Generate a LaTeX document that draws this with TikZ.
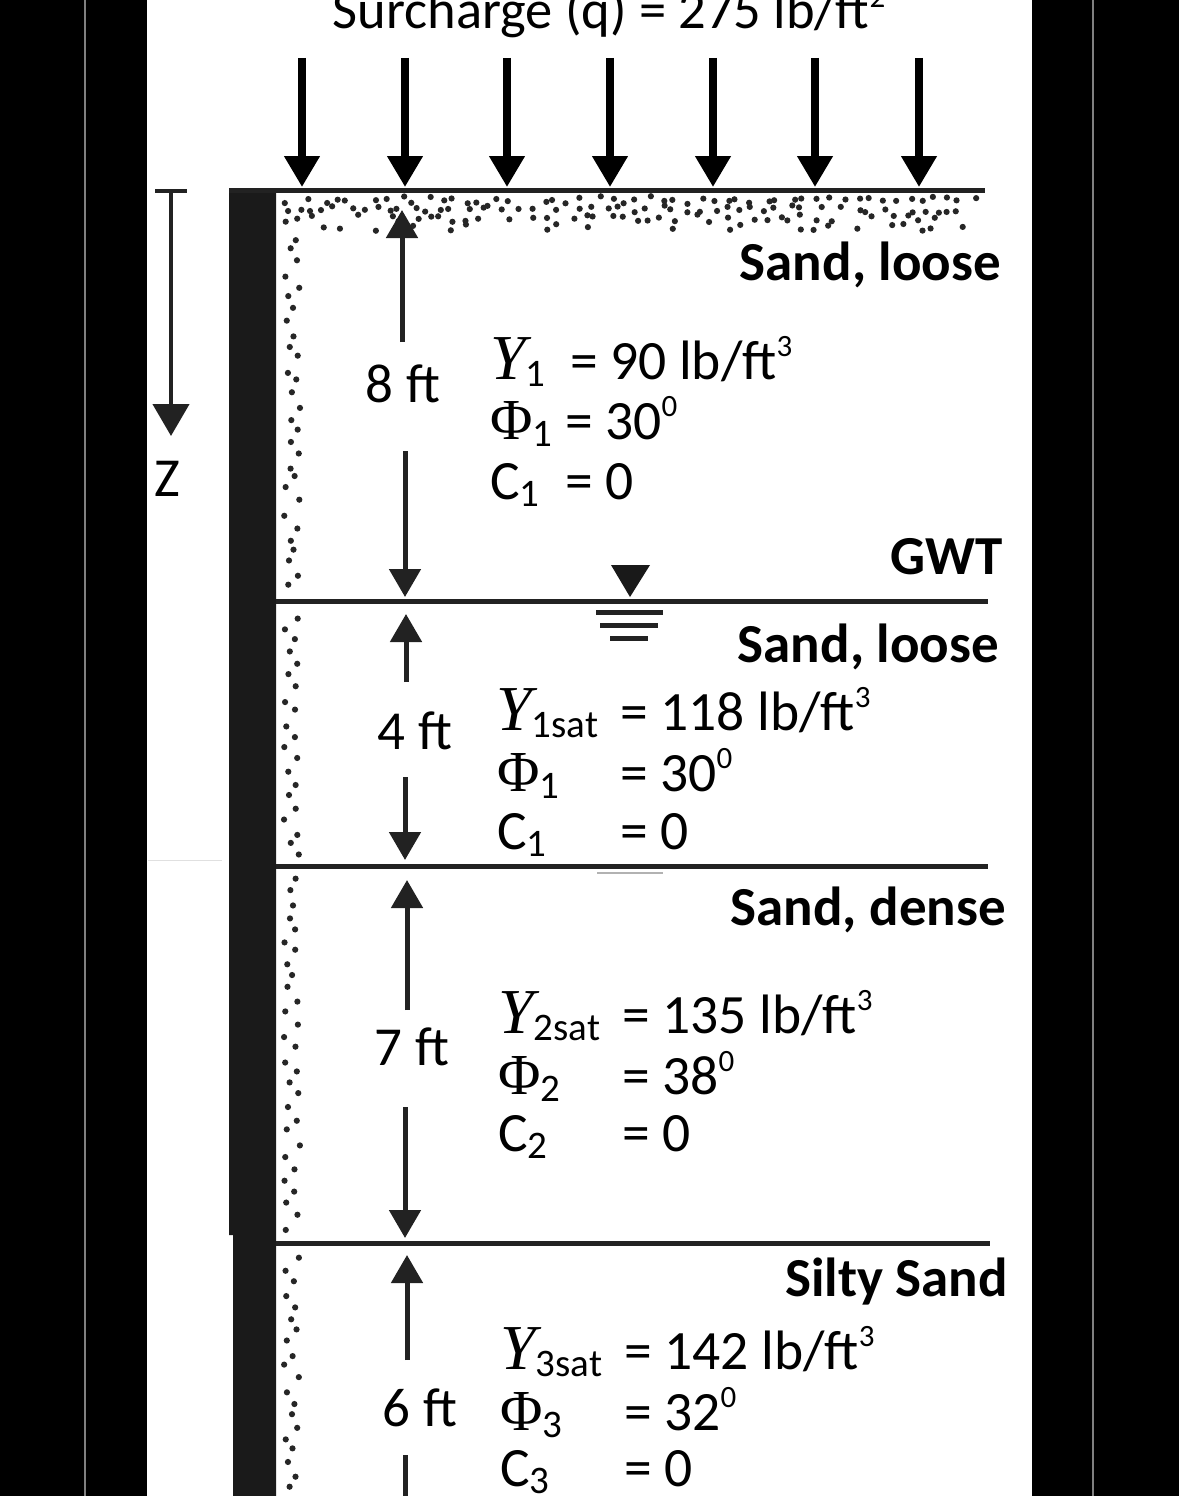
\documentclass[tikz,border=0pt]{standalone}
\usepackage{fontspec}
\setmainfont{Carlito}
\newfontfamily\gamfont{Liberation Serif}
\usetikzlibrary{arrows.meta}
\definecolor{wallc}{HTML}{1A1A1A}
\definecolor{linec}{HTML}{222222}
\newcommand{\gam}{{\fontsize{64}{60}\gamfont\itshape Υ}}
\newcommand{\phisym}{{\fontsize{58}{60}\gamfont Φ}}
\newcommand{\subt}[1]{\raisebox{-0.13em}{\fontsize{39}{40}\selectfont #1}}
\newcommand{\supt}[1]{\raisebox{0.40em}{\fontsize{31}{36}\selectfont #1}}
\tikzset{
  txt/.style={anchor=base west,inner sep=0pt,font=\fontsize{55.5}{60}\selectfont,text=black},
  ttl/.style={anchor=base east,inner sep=0pt,font=\fontsize{55}{60}\selectfont\bfseries,text=black},
  dim/.style={anchor=center,inner sep=0pt,font=\fontsize{55}{60}\selectfont,text=black},
  load/.style={line width=7.5pt,-{Triangle[width=34pt,length=31pt]},black},
  dimar/.style={line width=5pt,linec,-{Triangle[width=31pt,length=28pt]}},
  ground/.style={line width=5pt,linec},
  wtl/.style={line width=5pt,linec},
  band/.style={fill=black,draw=none},
  grain/.style={fill=black!85,draw=none},
}
\begin{document}
\begin{tikzpicture}[x=1pt,y=-1pt]
\useasboundingbox (0,0) rectangle (1179,1496);
\clip (0,0) rectangle (1179,1496);
\fill[white] (0,0) rectangle (1179,1496);
% side bands
\path[band] (0,0) rectangle (147,1496);
\path[band] (1032,0) rectangle (1179,1496);
\draw[gray,line width=1.5pt] (85,0) -- (85,1496);
\draw[gray,line width=1.5pt] (1093,0) -- (1093,1496);
\draw[black!12,line width=1pt] (148,860) -- (222,860);
\draw[black!30,line width=1.5pt] (597,873) -- (663,873);
% grains
\pgfmathsetseed{4217}
\foreach \gy/\prob in {200/0.9,209/0.9,218/0.8,228/0.35}{
  \foreach \gxa in {284,297,...,985}{
    \pgfmathsetmacro{\rr}{rnd}
    \ifdim\rr pt<\prob pt
      \pgfmathsetmacro{\gx}{\gxa+rnd*10-5}
      \pgfmathsetmacro{\gyy}{\gy+rnd*8-4}
      \path[grain] (\gx,\gyy) circle (3.1pt);
    \fi
  }
}
\foreach \ya/\yb in {238/592,616/858,880/1236,1258/1496}{
  \pgfmathsetmacro{\yc}{\ya+12}
  \foreach \gy [count=\k] in {\ya,\yc,...,\yb}{
    \pgfmathsetmacro{\gx}{287+mod(\k,2)*8+rnd*8-3}
    \pgfmathsetmacro{\gyy}{\gy+rnd*6-3}
    \path[grain] (\gx,\gyy) circle (3.1pt);
  }
}
% wall
\path[fill=wallc] (229,190) -- (276,190) -- (276,1496) -- (233,1496) -- (233,1235) -- (229,1235) -- cycle;
% named coordinates
\coordinate (g0a) at (229,190); \coordinate (g0b) at (985,190);
\coordinate (g1a) at (276,601); \coordinate (g1b) at (988,601);
\coordinate (g2a) at (276,866); \coordinate (g2b) at (988,866);
\coordinate (g3a) at (276,1243); \coordinate (g3b) at (990,1243);
\draw[ground] (g0a) -- (g0b);
\draw[ground] (g1a) -- (g1b);
\draw[ground] (g2a) -- (g2b);
\draw[ground] (g3a) -- (g3b);
% surcharge
\node[anchor=base,inner sep=0pt,font=\fontsize{54.5}{60}\selectfont,text=black] (sur) at (609,29) {Surcharge (q) = 275 lb/ft\supt{2}};
\foreach \n/\x in {a/302,b/405,c/507,d/610,e/713,f/815,g/919}{
  \coordinate (s\n) at (\x,58);
  \coordinate (t\n) at (\x,187);
  \draw[load] (s\n) -- (t\n);
}
% Z axis
\coordinate (za) at (155,191); \coordinate (zb) at (187,191);
\coordinate (zs) at (171,191); \coordinate (ze) at (171,436);
\draw[line width=3.5pt,linec] (za) -- (zb);
\draw[line width=4.5pt,linec,-{Triangle[width=36pt,length=32pt]}] (zs) -- (ze);
\node[dim] (z) at (167,479) {Z};
% water table
\path[fill=black!90] (611,565) -- (650,565) -- (630,597) -- cycle;
\draw[wtl] (596,612) -- (663,612);
\draw[wtl] (600,625) -- (658,625);
\draw[wtl] (610,638) -- (648,638);
% dimensions
\node[dim] (d8) at (403,384) {8 ft};
\coordinate (d8ua) at (402,342); \coordinate (d8ub) at (402,210);
\coordinate (d8da) at (405,451); \coordinate (d8db) at (405,597);
\draw[dimar] (d8ua) -- (d8ub); \draw[dimar] (d8da) -- (d8db);
\node[dim] (d4) at (415,731) {4 ft};
\coordinate (d4ua) at (406,682); \coordinate (d4ub) at (406,614);
\coordinate (d4da) at (405,777); \coordinate (d4db) at (405,860);
\draw[dimar] (d4ua) -- (d4ub); \draw[dimar] (d4da) -- (d4db);
\node[dim] (d7) at (412,1047) {7 ft};
\coordinate (d7ua) at (407,1010); \coordinate (d7ub) at (407,880);
\coordinate (d7da) at (405,1107); \coordinate (d7db) at (405,1238);
\draw[dimar] (d7ua) -- (d7ub); \draw[dimar] (d7da) -- (d7db);
\node[dim] (d6) at (420,1408) {6 ft};
\coordinate (d6ua) at (407,1360); \coordinate (d6ub) at (407,1255);
\coordinate (d6da) at (405,1455); \coordinate (d6db) at (405,1530);
\draw[dimar] (d6ua) -- (d6ub); \draw[dimar] (d6da) -- (d6db);
% layer titles
\node[ttl] (t1) at (1001,280) {Sand, loose};
\node[ttl] (gwt) at (1003,574) {GWT};
\node[ttl] (t2) at (999,662) {Sand, loose};
\node[ttl] (t3) at (1006,925) {Sand, dense};
\node[ttl] (t4) at (1008,1296) {Silty Sand};
% layer 1
\node[txt] (a1) at (490,379) {\gam\subt{1}};
\node[txt] (a2) at (570,379) {= 90 lb/ft\supt{3}};
\node[txt] (a3) at (490,439) {\phisym\subt{1}};
\node[txt] (a4) at (565,439) {= 30\supt{0}};
\node[txt] (a5) at (490,499) {C\subt{1}};
\node[txt] (a6) at (565,499) {= 0};
% layer 2
\node[txt] (b1) at (496,730) {\gam\subt{1sat}};
\node[txt] (b2) at (620,730) {= 118 lb/ft\supt{3}};
\node[txt] (b3) at (497,791) {\phisym\subt{1}};
\node[txt] (b4) at (620,791) {= 30\supt{0}};
\node[txt] (b5) at (497,849) {C\subt{1}};
\node[txt] (b6) at (620,849) {= 0};
% layer 3
\node[txt] (c1) at (498,1033) {\gam\subt{2sat}};
\node[txt] (c2) at (622,1033) {= 135 lb/ft\supt{3}};
\node[txt] (c3) at (498,1094) {\phisym\subt{2}};
\node[txt] (c4) at (622,1094) {= 38\supt{0}};
\node[txt] (c5) at (498,1151) {C\subt{2}};
\node[txt] (c6) at (622,1151) {= 0};
% layer 4
\node[txt] (e1) at (500,1369) {\gam\subt{3sat}};
\node[txt] (e2) at (624,1369) {= 142 lb/ft\supt{3}};
\node[txt] (e3) at (500,1430) {\phisym\subt{3}};
\node[txt] (e4) at (624,1430) {= 32\supt{0}};
\node[txt] (e5) at (500,1486) {C\subt{3}};
\node[txt] (e6) at (624,1486) {= 0};
\end{tikzpicture}
\end{document}
